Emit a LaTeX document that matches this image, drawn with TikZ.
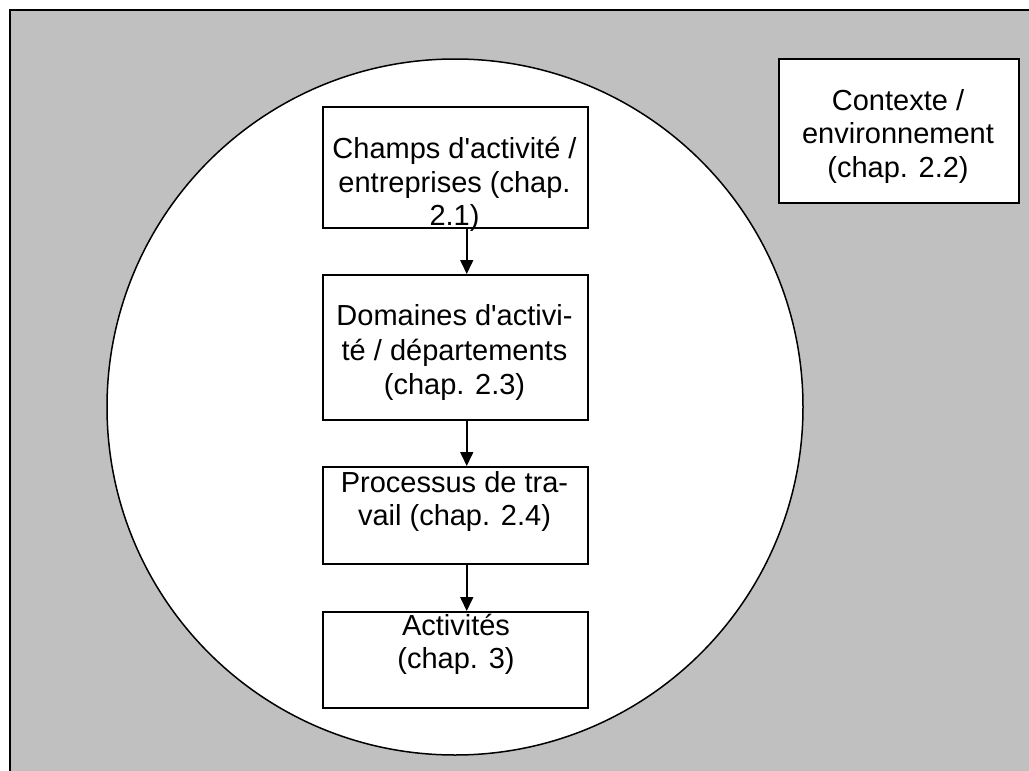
\documentclass[tikz,border=0pt]{standalone}
\usepackage{fontspec}
\setmainfont{Liberation Sans}
\usetikzlibrary{arrows.meta}
\definecolor{bggrey}{RGB}{192,192,192}
\tikzset{
  box/.style={draw=black, fill=white, line width=1.5pt, rectangle, inner sep=0pt, anchor=north west},
  txt/.style={align=center, inner sep=0pt, anchor=north, font=\fontsize{29}{33.5}\selectfont},
  txtwide/.style={align=center, inner sep=0pt, anchor=north, font=\fontsize{29}{34.5}\selectfont},
  link/.style={draw=black, line width=1.6pt, -{Triangle[length=14pt,width=13pt]}}
}
\begin{document}
\begin{tikzpicture}[x=1pt,y=-1pt]
\useasboundingbox (0,0) rectangle (1029,771);
\clip (0,0) rectangle (1029,771);
% background
\fill[bggrey] (10,10) rectangle (1045,795);
\draw[line width=1.8pt] (10,795) -- (10,10) -- (1045,10);
% circle
\node[circle, draw=black, fill=white, line width=1.5pt, minimum size=696pt, inner sep=0pt] (ring) at (455,407) {};
% boxes
\node[box, minimum width=265pt, minimum height=121pt] (b1) at (322,106) {};
\node[box, minimum width=265pt, minimum height=145pt] (b2) at (322,274) {};
\node[box, minimum width=265pt, minimum height=97pt] (b3) at (322,466) {};
\node[box, minimum width=265pt, minimum height=96pt] (b4) at (322,611) {};
\node[box, minimum width=240pt, minimum height=144pt] (ctx) at (778,58) {};
% texts
\node[txt] (t1) at (454.5,135) {\strut Champs d\textquotesingle activité /\\entreprises (chap.\\2.1)};
\node[txtwide] (t2) at (454.5,301.5) {\strut Domaines d\textquotesingle activi-\\té / départements\\(chap. 2.3)};
\node[txt] (t3) at (454.5,468.5) {\strut Processus de tra-\\vail (chap. 2.4)};
\node[txt] (t4) at (456,611.5) {\strut Activités\\(chap. 3)};
\node[txt] (t5) at (898,86.5) {\strut Contexte /\\environnement\\(chap. 2.2)};
% connectors
\draw[link] ([xshift=11.5pt]b1.south) -- ([xshift=11.5pt]b2.north);
\draw[link] ([xshift=11.5pt]b2.south) -- ([xshift=11.5pt]b3.north);
\draw[link] ([xshift=11.5pt]b3.south) -- ([xshift=11.5pt]b4.north);
\end{tikzpicture}
\end{document}
